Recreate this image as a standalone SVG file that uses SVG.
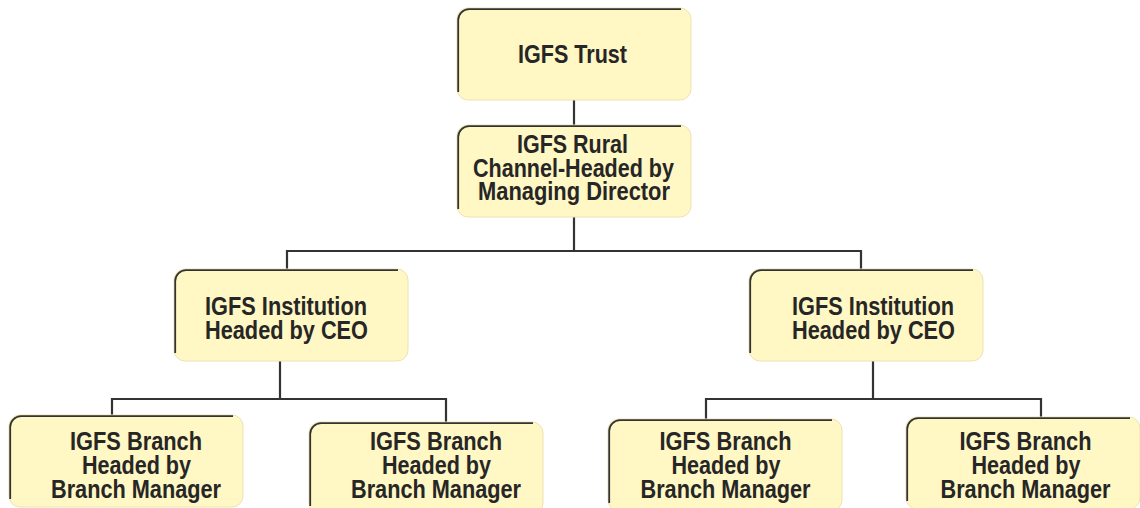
<svg xmlns="http://www.w3.org/2000/svg" xmlns:xlink="http://www.w3.org/1999/xlink" width="1140" height="508" viewBox="0 0 1140 508">
  <style>
    .edge { fill: none; stroke: #333333; stroke-width: 2.2; }
    .t { font-family: "Liberation Sans", Arial, sans-serif; font-weight: bold; font-size: 25px; fill: #262626; text-anchor: middle; }
  </style>
  <defs>
    <g id="box">
      <rect x="0" y="0" width="234" height="92" rx="11" ry="11" fill="#FFF7C4" stroke="#ECE3B4" stroke-width="1"/>
      <path d="M1.2,84 V12 A11,11 0 0 1 12,1.2 H224" fill="none" stroke="#333333" stroke-width="1.8"/>
    </g>
  </defs>
  <rect width="1140" height="508" fill="#ffffff"/>

  <g id="connectors">
    <path class="edge" d="M574,100 V125"/>
    <path class="edge" d="M574,217 V251"/>
    <path class="edge" d="M287,269 V251 H861 V269"/>
    <path class="edge" d="M280,361 V399"/>
    <path class="edge" d="M112,415 V399 H446 V422"/>
    <path class="edge" d="M873,361 V399"/>
    <path class="edge" d="M706,419 V399 H1041 V417"/>
  </g>

  <g id="trust">
    <use xlink:href="#box" x="457" y="8"/>
    <text class="t" x="572.5" y="63" textLength="109" lengthAdjust="spacingAndGlyphs">IGFS Trust</text>
  </g>

  <g id="rural">
    <use xlink:href="#box" x="457" y="125"/>
    <text class="t" x="572.5" y="153" textLength="111" lengthAdjust="spacingAndGlyphs">IGFS Rural</text>
    <text class="t" x="573.5" y="176.5" textLength="201" lengthAdjust="spacingAndGlyphs">Channel-Headed by</text>
    <text class="t" x="574" y="200" textLength="192" lengthAdjust="spacingAndGlyphs">Managing Director</text>
  </g>

  <g id="institution-left">
    <use xlink:href="#box" x="174" y="269"/>
    <text class="t" x="286" y="315" textLength="162" lengthAdjust="spacingAndGlyphs">IGFS Institution</text>
    <text class="t" x="286.5" y="339" textLength="163" lengthAdjust="spacingAndGlyphs">Headed by CEO</text>
  </g>

  <g id="institution-right">
    <use xlink:href="#box" x="749" y="269"/>
    <text class="t" x="873" y="315" textLength="162" lengthAdjust="spacingAndGlyphs">IGFS Institution</text>
    <text class="t" x="873.5" y="339" textLength="163" lengthAdjust="spacingAndGlyphs">Headed by CEO</text>
  </g>

  <g id="branch-1">
    <use xlink:href="#box" x="9" y="415"/>
    <text class="t" x="136" y="450" textLength="132" lengthAdjust="spacingAndGlyphs">IGFS Branch</text>
    <text class="t" x="136.5" y="474" textLength="109" lengthAdjust="spacingAndGlyphs">Headed by</text>
    <text class="t" x="136" y="498" textLength="170" lengthAdjust="spacingAndGlyphs">Branch Manager</text>
  </g>

  <g id="branch-2">
    <use xlink:href="#box" x="309" y="422"/>
    <text class="t" x="436" y="450" textLength="132" lengthAdjust="spacingAndGlyphs">IGFS Branch</text>
    <text class="t" x="436.5" y="474" textLength="109" lengthAdjust="spacingAndGlyphs">Headed by</text>
    <text class="t" x="436" y="498" textLength="170" lengthAdjust="spacingAndGlyphs">Branch Manager</text>
  </g>

  <g id="branch-3">
    <use xlink:href="#box" x="608" y="419"/>
    <text class="t" x="725.5" y="450" textLength="132" lengthAdjust="spacingAndGlyphs">IGFS Branch</text>
    <text class="t" x="726" y="474" textLength="109" lengthAdjust="spacingAndGlyphs">Headed by</text>
    <text class="t" x="725.5" y="498" textLength="170" lengthAdjust="spacingAndGlyphs">Branch Manager</text>
  </g>

  <g id="branch-4">
    <use xlink:href="#box" x="906" y="417"/>
    <text class="t" x="1025.5" y="450" textLength="132" lengthAdjust="spacingAndGlyphs">IGFS Branch</text>
    <text class="t" x="1026" y="474" textLength="109" lengthAdjust="spacingAndGlyphs">Headed by</text>
    <text class="t" x="1025.5" y="498" textLength="170" lengthAdjust="spacingAndGlyphs">Branch Manager</text>
  </g>
</svg>
